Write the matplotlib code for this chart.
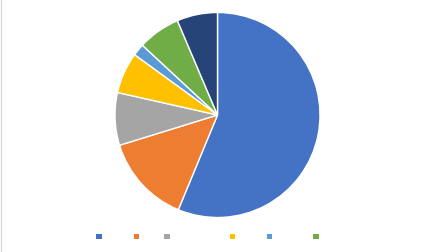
import matplotlib
matplotlib.use("Agg")
import matplotlib.pyplot as plt
from matplotlib.patches import Patch
from matplotlib.lines import Line2D

# Data (shares in %)
categories = ["A", "B", "C", "D", "E", "F", "G"]
values = [56.3, 14.0, 8.3, 6.5, 1.9, 6.7, 6.4]
colors = ["#4472C4", "#ED7D31", "#A5A5A5", "#FFC000", "#5B9BD5", "#70AD47", "#264478"]
# legend labels are not legible in the reference (blank); widths approximate the spacing
legend_labels = ["\u00a0" * 8, "\u00a0" * 6, "\u00a0" * 17, "\u00a0" * 8, "\u00a0" * 11, "\u00a0" * 8]

W, H = 433, 252
fig = plt.figure(figsize=(W / 100, H / 100), dpi=100)
fig.patch.set_facecolor("white")

cx, cy, r = 217.5, 115.0, 102.5
ax = fig.add_axes([(cx - r) / W, (H - cy - r) / H, 2 * r / W, 2 * r / H])
ax.pie(values, colors=colors, startangle=90, counterclock=False, radius=1,
       wedgeprops=dict(edgecolor="white", linewidth=1.0))
ax.set_xlim(-1, 1)
ax.set_ylim(-1, 1)
ax.axis("off")

handles = [Patch(facecolor=c, edgecolor="none") for c in colors[:6]]
fig.legend(handles, legend_labels, loc="center", bbox_to_anchor=(0.5 + 4.5 / W, (H - 237) / H),
           ncol=6, frameon=False, fontsize=7, handlelength=0.55, handleheight=0.55,
           handletextpad=0.2, columnspacing=0.5, borderpad=0)

# thin gray border at the left edge
fig.add_artist(Line2D([0.5 / W, 0.5 / W], [0, 1], color="#D9D9D9", linewidth=1.0,
                      transform=fig.transFigure))

fig.savefig("out.png", dpi=100, facecolor="white")
